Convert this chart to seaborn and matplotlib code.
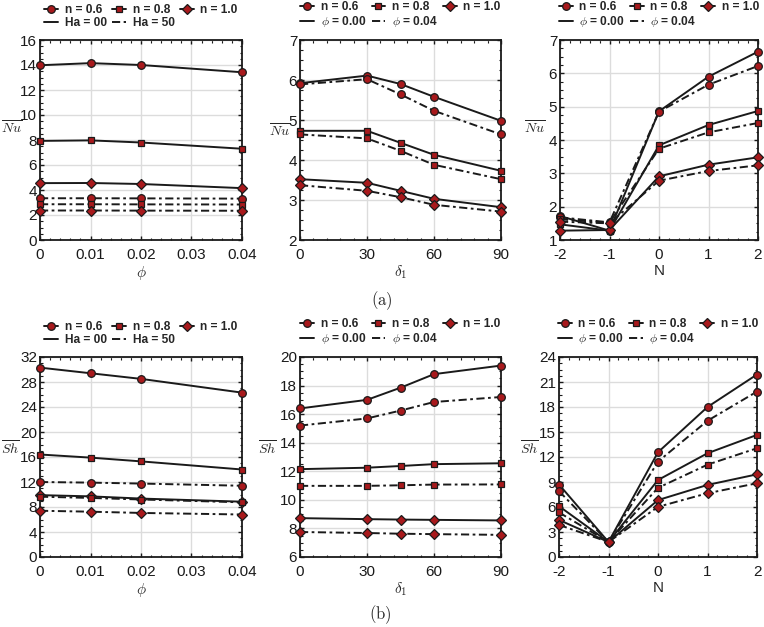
import matplotlib
matplotlib.use("Agg")
import matplotlib.pyplot as plt
import seaborn as sns
from matplotlib.lines import Line2D
from matplotlib.ticker import AutoMinorLocator, MultipleLocator

# ---------------- data ----------------
phi = [0, 0.01, 0.02, 0.04]
delta1 = [0, 30, 45, 60, 90]
N_vals = [-2, -1, 0, 1, 2]

# (a) Nu vs phi  (Ha = 00 solid, Ha = 50 dash-dot)
nu_phi_ha0_n06 = [13.98, 14.15, 14.0, 13.42]
nu_phi_ha0_n08 = [7.93, 7.97, 7.8, 7.3]
nu_phi_ha0_n10 = [4.55, 4.56, 4.48, 4.15]
nu_phi_ha50_n06 = [3.34, 3.34, 3.33, 3.31]
nu_phi_ha50_n08 = [2.86, 2.86, 2.85, 2.84]
nu_phi_ha50_n10 = [2.36, 2.36, 2.35, 2.34]

# (a) Nu vs delta1  (phi = 0.00 solid, phi = 0.04 dash-dot)
nu_d_p0_n06 = [5.92, 6.11, 5.90, 5.58, 4.98]
nu_d_p4_n06 = [5.89, 6.02, 5.64, 5.23, 4.64]
nu_d_p0_n08 = [4.73, 4.73, 4.43, 4.13, 3.73]
nu_d_p4_n08 = [4.64, 4.54, 4.23, 3.88, 3.52]
nu_d_p0_n10 = [3.52, 3.43, 3.23, 3.03, 2.82]
nu_d_p4_n10 = [3.37, 3.23, 3.07, 2.88, 2.71]

# (a) Nu vs N
nu_N_p0_n06 = [1.72, 1.28, 4.86, 5.90, 6.65]
nu_N_p4_n06 = [1.68, 1.53, 4.85, 5.66, 6.22]
nu_N_p0_n08 = [1.47, 1.28, 3.84, 4.45, 4.87]
nu_N_p4_n08 = [1.62, 1.52, 3.74, 4.23, 4.51]
nu_N_p0_n10 = [1.28, 1.30, 2.91, 3.26, 3.48]
nu_N_p4_n10 = [1.55, 1.50, 2.78, 3.07, 3.24]

# (b) Sh vs phi
sh_phi_ha0_n06 = [30.3, 29.4, 28.5, 26.3]
sh_phi_ha0_n08 = [16.4, 15.9, 15.3, 14.0]
sh_phi_ha0_n10 = [9.9, 9.7, 9.35, 8.85]
sh_phi_ha50_n06 = [12.0, 11.9, 11.75, 11.4]
sh_phi_ha50_n08 = [9.65, 9.45, 9.2, 8.75]
sh_phi_ha50_n10 = [7.4, 7.25, 7.05, 6.8]

# (b) Sh vs delta1
sh_d_p0_n06 = [16.4, 17.0, 17.85, 18.8, 19.4]
sh_d_p4_n06 = [15.2, 15.7, 16.25, 16.85, 17.2]
sh_d_p0_n08 = [12.15, 12.25, 12.37, 12.5, 12.56]
sh_d_p4_n08 = [10.98, 10.98, 11.02, 11.07, 11.08]
sh_d_p0_n10 = [8.72, 8.65, 8.62, 8.60, 8.56]
sh_d_p4_n10 = [7.75, 7.68, 7.63, 7.60, 7.55]

# (b) Sh vs N
sh_N_p0_n06 = [8.7, 1.8, 12.57, 18.0, 21.9]
sh_N_p4_n06 = [7.9, 1.8, 11.45, 16.35, 19.85]
sh_N_p0_n08 = [6.1, 1.8, 9.24, 12.45, 14.65]
sh_N_p4_n08 = [5.35, 1.8, 8.3, 11.08, 13.05]
sh_N_p0_n10 = [4.45, 1.8, 6.83, 8.65, 9.92]
sh_N_p4_n10 = [3.85, 1.8, 6.02, 7.65, 8.85]

n_labels = ["n = 0.6", "n = 0.8", "n = 1.0"]
ha_labels = ["Ha = 00", "Ha = 50"]
phi_labels = [r"$\phi$ = 0.00", r"$\phi$ = 0.04"]

# ---------------- style ----------------
sns.set_theme(style="ticks")
plt.rcParams["font.family"] = ["Liberation Sans", "DejaVu Sans"]
plt.rcParams["mathtext.fontset"] = "cm"
plt.rcParams["axes.unicode_minus"] = False

RED = "#A8191C"
MARKERS = ["o", "s", "D"]
MSIZES = [5.5, 5.0, 4.6]
SOLID = "-"
DASHDOT = (0, (4.2, 1.8, 1.4, 1.8))
LW = 1.4

fig = plt.figure(figsize=(7.64, 6.27), dpi=100)
W, H = 764.0, 627.0


def make_ax(left, top, right, bottom):
    return fig.add_axes([left / W, 1 - bottom / H, (right - left) / W, (bottom - top) / H])


def draw(ax, x, series_solid, series_dash):
    for ls, group in ((SOLID, series_solid), (DASHDOT, series_dash)):
        for i, ys in enumerate(group):
            sns.lineplot(x=x, y=ys, ax=ax, color="k", linewidth=LW, linestyle=ls,
                         marker=MARKERS[i], markersize=MSIZES[i], markerfacecolor=RED,
                         markeredgecolor="k", markeredgewidth=0.9, clip_on=False,
                         zorder=4, estimator=None, sort=False, legend=False)


def style_ax(ax, xlim, xticks, ylim, ystep, ylabel, xlabel, ylab_x, ylab_y):
    ax.set_xlim(*xlim)
    ax.set_xticks(xticks)
    ax.set_ylim(*ylim)
    ax.yaxis.set_major_locator(MultipleLocator(ystep))
    ax.xaxis.set_minor_locator(AutoMinorLocator(5))
    ax.yaxis.set_minor_locator(AutoMinorLocator(4))
    ax.grid(True, which="major", color="#dcdcdc", linewidth=1.0, zorder=0)
    ax.set_axisbelow(True)
    for sp in ax.spines.values():
        sp.set_linewidth(1.3)
        sp.set_color("k")
        sp.set_visible(True)
    ax.tick_params(which="both", direction="in", top=True, right=True, colors="k",
                   labelsize=11)
    ax.tick_params(axis="x", which="major", pad=6)
    ax.tick_params(axis="y", which="major", pad=2)
    ax.tick_params(which="major", length=3, width=1.0)
    ax.tick_params(which="minor", length=1.8, width=0.8)
    ax.set_ylabel(ylabel, rotation=0, fontsize=10, ha="right", va="center")
    ax.yaxis.set_label_coords(ylab_x, ylab_y)
    ax.set_xlabel(xlabel, fontsize=11, labelpad=1)


def add_legend(ax, second):
    h = [Line2D([], [], color="k", lw=LW, marker=MARKERS[i], markersize=MSIZES[i],
                markerfacecolor=RED, markeredgecolor="k", markeredgewidth=0.9)
         for i in range(3)]
    s = Line2D([], [], color="k", lw=LW, linestyle=SOLID)
    d = Line2D([], [], color="k", lw=LW, linestyle=DASHDOT)
    handles = [h[0], s, h[1], d, h[2]]
    labels = [n_labels[0], second[0], n_labels[1], second[1], n_labels[2]]
    ax.legend(handles, labels, ncol=3, loc="lower center", bbox_to_anchor=(0.5, 1.055),
              frameon=False, borderaxespad=0, borderpad=0, handlelength=1.15,
              handletextpad=0.55, columnspacing=0.45, labelspacing=0.1,
              prop={"weight": "bold", "size": 8.6})


NU = r"$\overline{Nu}$"
SH = r"$\overline{Sh}$"

# top row
ax1 = make_ax(40, 40, 242, 240)
draw(ax1, phi, [nu_phi_ha0_n06, nu_phi_ha0_n08, nu_phi_ha0_n10],
     [nu_phi_ha50_n06, nu_phi_ha50_n08, nu_phi_ha50_n10])
style_ax(ax1, (0, 0.04), [0, 0.01, 0.02, 0.03, 0.04], (0, 16), 2, NU, r"$\phi$", -0.09, 0.56)
ax1.set_xticklabels(["0", "0.01", "0.02", "0.03", "0.04"])
add_legend(ax1, ha_labels)

ax2 = make_ax(300, 40, 501, 240)
draw(ax2, delta1, [nu_d_p0_n06, nu_d_p0_n08, nu_d_p0_n10],
     [nu_d_p4_n06, nu_d_p4_n08, nu_d_p4_n10])
style_ax(ax2, (0, 90), [0, 30, 60, 90], (2, 7), 1, NU, r"$\delta_1$", -0.05, 0.545)
add_legend(ax2, phi_labels)

ax3 = make_ax(560, 40, 758, 240)
draw(ax3, N_vals, [nu_N_p0_n06, nu_N_p0_n08, nu_N_p0_n10],
     [nu_N_p4_n06, nu_N_p4_n08, nu_N_p4_n10])
style_ax(ax3, (-2, 2), [-2, -1, 0, 1, 2], (1, 7), 1, NU, "N", -0.075, 0.56)
add_legend(ax3, phi_labels)

# bottom row
ax4 = make_ax(40, 357, 242, 557)
draw(ax4, phi, [sh_phi_ha0_n06, sh_phi_ha0_n08, sh_phi_ha0_n10],
     [sh_phi_ha50_n06, sh_phi_ha50_n08, sh_phi_ha50_n10])
style_ax(ax4, (0, 0.04), [0, 0.01, 0.02, 0.03, 0.04], (0, 32), 4, SH, r"$\phi$", -0.1, 0.545)
ax4.set_xticklabels(["0", "0.01", "0.02", "0.03", "0.04"])
add_legend(ax4, ha_labels)

ax5 = make_ax(300, 357, 501, 557)
draw(ax5, delta1, [sh_d_p0_n06, sh_d_p0_n08, sh_d_p0_n10],
     [sh_d_p4_n06, sh_d_p4_n08, sh_d_p4_n10])
style_ax(ax5, (0, 90), [0, 30, 60, 90], (6, 20), 2, SH, r"$\delta_1$", -0.115, 0.545)
add_legend(ax5, phi_labels)

ax6 = make_ax(559, 357, 757, 557)
draw(ax6, N_vals, [sh_N_p0_n06, sh_N_p0_n08, sh_N_p0_n10],
     [sh_N_p4_n06, sh_N_p4_n08, sh_N_p4_n10])
style_ax(ax6, (-2, 2), [-2, -1, 0, 1, 2], (0, 24), 3, SH, "N", -0.105, 0.545)
add_legend(ax6, phi_labels)

fig.text(382 / W, 1 - 301 / H, r"$\mathrm{(a)}$", ha="center", va="center", fontsize=12)
fig.text(380 / W, 1 - 615 / H, r"$\mathrm{(b)}$", ha="center", va="center", fontsize=12)

fig.savefig("out.png", dpi=100)
